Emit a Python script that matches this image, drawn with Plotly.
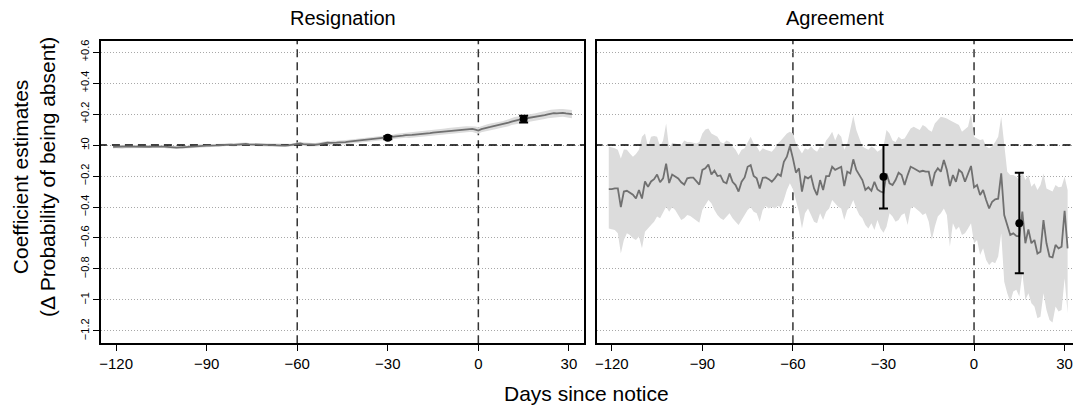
import plotly.graph_objects as go

# ---------------- data ----------------
days = list(range(-121, 32))

resig_est = [
    -0.011, -0.010, -0.011, -0.012, -0.011, -0.010, -0.009, -0.010, -0.011, -0.010,
    -0.009, -0.010, -0.011, -0.010, -0.009, -0.008, -0.009, -0.010, -0.012, -0.014,
    -0.016, -0.017, -0.015, -0.016, -0.013, -0.012, -0.010, -0.008, -0.006, -0.005,
    -0.006, -0.004, -0.003, -0.004, -0.002, -0.001, 0.001, 0.002, 0.004, 0.003,
    0.001, 0.003, 0.005, 0.006, 0.007, 0.005, 0.004, 0.006, 0.004, 0.002,
    0.001, 0.000, 0.001, -0.001, -0.002, -0.001, -0.003, -0.003, -0.002, 0.000,
    0.003, 0.006, 0.010, 0.006, 0.004, 0.003, 0.002, 0.002, 0.005, 0.009,
    0.013, 0.015, 0.014, 0.017, 0.016, 0.018, 0.017, 0.019, 0.022, 0.024,
    0.026, 0.028, 0.030, 0.032, 0.033, 0.036, 0.038, 0.039, 0.041, 0.043,
    0.045, 0.047, 0.050, 0.054, 0.057, 0.059, 0.061, 0.064, 0.063, 0.066,
    0.068, 0.069, 0.071, 0.072, 0.074, 0.077, 0.080, 0.082, 0.085, 0.087,
    0.089, 0.091, 0.093, 0.095, 0.098, 0.099, 0.101, 0.102, 0.103, 0.104,
    0.100, 0.094, 0.103, 0.110, 0.113, 0.117, 0.121, 0.126, 0.130, 0.133,
    0.138, 0.145, 0.152, 0.158, 0.162, 0.166, 0.170, 0.173, 0.175, 0.178,
    0.182, 0.185, 0.189, 0.193, 0.198, 0.202, 0.206, 0.205, 0.207, 0.208,
    0.204, 0.202, 0.200,
]

resig_half = [
    0.011, 0.010, 0.010, 0.011, 0.010, 0.009, 0.010, 0.010, 0.011, 0.010,
    0.010, 0.009, 0.010, 0.010, 0.011, 0.010, 0.010, 0.009, 0.010, 0.010,
    0.011, 0.010, 0.010, 0.010, 0.009, 0.010, 0.010, 0.011, 0.010, 0.010,
    0.010, 0.009, 0.010, 0.010, 0.011, 0.010, 0.010, 0.010, 0.009, 0.010,
    0.010, 0.011, 0.010, 0.010, 0.010, 0.009, 0.010, 0.010, 0.011, 0.010,
    0.010, 0.010, 0.009, 0.010, 0.010, 0.011, 0.010, 0.010, 0.010, 0.009,
    0.010, 0.011, 0.011, 0.012, 0.011, 0.012, 0.012, 0.011, 0.012, 0.012,
    0.013, 0.012, 0.013, 0.013, 0.012, 0.013, 0.013, 0.014, 0.013, 0.013,
    0.014, 0.013, 0.014, 0.014, 0.015, 0.014, 0.014, 0.015, 0.015, 0.014,
    0.015, 0.015, 0.016, 0.015, 0.016, 0.016, 0.015, 0.016, 0.017, 0.016,
    0.017, 0.016, 0.017, 0.017, 0.018, 0.017, 0.018, 0.018, 0.017, 0.018,
    0.018, 0.019, 0.018, 0.019, 0.019, 0.018, 0.019, 0.020, 0.019, 0.020,
    0.020, 0.021, 0.020, 0.021, 0.021, 0.022, 0.021, 0.022, 0.022, 0.021,
    0.022, 0.023, 0.022, 0.023, 0.023, 0.024, 0.023, 0.024, 0.024, 0.023,
    0.024, 0.025, 0.024, 0.025, 0.025, 0.026, 0.025, 0.026, 0.026, 0.025,
    0.026, 0.026, 0.027,
]

agree_est = [
    -0.285, -0.285, -0.280, -0.280, -0.400, -0.300, -0.295, -0.305, -0.320, -0.345,
    -0.290, -0.345, -0.235, -0.270, -0.235, -0.220, -0.190, -0.240, -0.215, -0.120,
    -0.245, -0.190, -0.200, -0.215, -0.240, -0.255, -0.215, -0.210, -0.210, -0.235,
    -0.255, -0.160, -0.150, -0.125, -0.190, -0.165, -0.200, -0.196, -0.237, -0.247,
    -0.183, -0.237, -0.258, -0.300, -0.237, -0.209, -0.140, -0.129, -0.200, -0.215,
    -0.280, -0.211, -0.209, -0.220, -0.237, -0.215, -0.187, -0.200, -0.108, -0.075,
    -0.006, -0.086, -0.178, -0.150, -0.300, -0.204, -0.215, -0.200, -0.280, -0.323,
    -0.226, -0.290, -0.200, -0.200, -0.140, -0.160, -0.150, -0.140, -0.265, -0.172,
    -0.183, -0.092, -0.161, -0.194, -0.226, -0.290, -0.273, -0.295, -0.237, -0.286,
    -0.300, -0.307, -0.183, -0.247, -0.258, -0.226, -0.178, -0.194, -0.258, -0.194,
    -0.140, -0.150, -0.160, -0.172, -0.166, -0.172, -0.172, -0.265, -0.180, -0.150,
    -0.172, -0.097, -0.161, -0.265, -0.194, -0.237, -0.161, -0.178, -0.237, -0.187,
    -0.135, -0.273, -0.258, -0.323, -0.290, -0.355, -0.409, -0.366, -0.350, -0.346,
    -0.183, -0.452, -0.516, -0.580, -0.570, -0.587, -0.590, -0.430, -0.634, -0.544,
    -0.634, -0.613, -0.700, -0.688, -0.484, -0.634, -0.720, -0.725, -0.645, -0.667,
    -0.656, -0.424, -0.667,
]

agree_hi = [
    -0.010, -0.015, -0.020, -0.030, -0.086, -0.028, -0.030, -0.054, -0.075, -0.058,
    -0.030, 0.054, 0.075, -0.010, 0.054, 0.058, 0.054, -0.010, 0.030, 0.140,
    -0.020, 0.015, 0.010, 0.006, 0.000, 0.030, 0.020, 0.020, 0.015, 0.010,
    0.020, 0.075, 0.100, 0.107, 0.075, 0.065, 0.054, 0.020, 0.010, 0.030,
    0.020, -0.010, -0.030, -0.065, -0.030, -0.020, 0.020, 0.054, 0.010, -0.010,
    -0.043, -0.020, -0.030, -0.037, -0.043, -0.020, 0.010, 0.030, 0.054, 0.075,
    0.086, 0.075, 0.010, -0.020, -0.054, -0.020, -0.030, -0.010, -0.030, -0.043,
    -0.010, -0.020, 0.030, 0.054, 0.086, 0.030, 0.075, 0.054, -0.030, 0.010,
    0.097, 0.190, 0.097, 0.043, -0.010, -0.020, -0.030, -0.010, -0.020, -0.043,
    -0.030, -0.010, 0.097, 0.075, 0.030, 0.020, 0.054, 0.037, 0.043, 0.075,
    0.107, 0.118, 0.107, 0.097, 0.130, 0.118, 0.097, 0.086, 0.140, 0.160,
    0.183, 0.178, 0.172, 0.160, 0.150, 0.140, 0.130, 0.086, 0.100, 0.118,
    0.204, 0.054, 0.043, 0.032, 0.037, -0.010, -0.020, -0.010, 0.020, 0.054,
    0.183, -0.010, -0.172, -0.194, -0.194, -0.204, -0.226, -0.172, -0.226, -0.194,
    -0.269, -0.247, -0.290, -0.258, -0.183, -0.280, -0.290, -0.300, -0.258, -0.273,
    -0.269, -0.204, -0.290,
]

agree_lo = [
    -0.538, -0.544, -0.548, -0.570, -0.700, -0.613, -0.570, -0.580, -0.602, -0.613,
    -0.591, -0.667, -0.559, -0.538, -0.516, -0.495, -0.462, -0.473, -0.441, -0.398,
    -0.430, -0.402, -0.419, -0.452, -0.484, -0.473, -0.452, -0.458, -0.473, -0.488,
    -0.501, -0.419, -0.387, -0.355, -0.376, -0.419, -0.452, -0.473, -0.484, -0.462,
    -0.441, -0.473, -0.495, -0.516, -0.484, -0.452, -0.419, -0.402, -0.430, -0.441,
    -0.495, -0.419, -0.394, -0.409, -0.398, -0.409, -0.394, -0.402, -0.355, -0.290,
    -0.247, -0.286, -0.355, -0.430, -0.538, -0.441, -0.409, -0.452, -0.495, -0.505,
    -0.441, -0.484, -0.430, -0.409, -0.355, -0.376, -0.398, -0.409, -0.484, -0.419,
    -0.398, -0.355, -0.409, -0.452, -0.473, -0.516, -0.538, -0.505, -0.548, -0.484,
    -0.538, -0.566, -0.527, -0.441, -0.462, -0.495, -0.484, -0.452, -0.441, -0.516,
    -0.409, -0.398, -0.415, -0.430, -0.452, -0.441, -0.495, -0.613, -0.527, -0.462,
    -0.441, -0.409, -0.452, -0.656, -0.505, -0.548, -0.527, -0.580, -0.570, -0.538,
    -0.505, -0.634, -0.613, -0.710, -0.667, -0.742, -0.774, -0.753, -0.763, -0.720,
    -0.570, -0.882, -0.957, -1.011, -0.946, -0.935, -0.978, -0.828, -1.000, -0.957,
    -1.022, -1.043, -1.118, -1.108, -0.957, -1.065, -1.129, -1.146, -1.043, -1.075,
    -1.065, -0.860, -1.086,
]

point_days = [-30, 15]
resig_pt_est = [0.047, 0.168]
resig_pt_lo = [0.037, 0.145]
resig_pt_hi = [0.057, 0.190]
agree_pt_est = [-0.204, -0.505]
agree_pt_lo = [-0.409, -0.828]
agree_pt_hi = [0.000, -0.178]

panel_titles = ["Resignation", "Agreement"]
xtick_vals = [-120, -90, -60, -30, 0, 30]
ytick_vals = [0.6, 0.4, 0.2, 0.0, -0.2, -0.4, -0.6, -0.8, -1.0, -1.2]
ytick_text = ["+0.6", "+0.4", "+0.2", "\u00b10", "\u22120.2", "\u22120.4",
              "\u22120.6", "\u22120.8", "\u22121", "\u22121.2"]
ref_days = [-60, 0]

# ---------------- figure ----------------
FONT = "Liberation Sans, Arial, Helvetica, sans-serif"
W, H = 1073, 409
BAND = "#dcdcdc"
LINE = "#707070"

fig = go.Figure()

resig_lo = [e - h for e, h in zip(resig_est, resig_half)]
resig_hi = [e + h for e, h in zip(resig_est, resig_half)]

panels = [
    (resig_est, resig_lo, resig_hi, resig_pt_est, resig_pt_lo, resig_pt_hi, "x", "y"),
    (agree_est, agree_lo, agree_hi, agree_pt_est, agree_pt_lo, agree_pt_hi, "x2", "y2"),
]

for est, lo, hi, pe, plo, phi, xa, ya in panels:
    # confidence band
    fig.add_trace(go.Scatter(
        x=days + days[::-1], y=hi + lo[::-1], fill="toself", fillcolor=BAND,
        line=dict(width=0), mode="lines", hoverinfo="skip", showlegend=False,
        xaxis=xa, yaxis=ya))
    # zero reference line (drawn above band)
    fig.add_trace(go.Scatter(
        x=[-130, 40], y=[0, 0], mode="lines",
        line=dict(color="black", width=1.5, dash="8px,5px"),
        hoverinfo="skip", showlegend=False, xaxis=xa, yaxis=ya))
    # estimate line
    fig.add_trace(go.Scatter(
        x=days, y=est, mode="lines", line=dict(color=LINE, width=1.8),
        showlegend=False, xaxis=xa, yaxis=ya))
    # point estimates with error bars
    fig.add_trace(go.Scatter(
        x=point_days, y=pe, mode="markers",
        marker=dict(color="black", size=8),
        error_y=dict(type="data", symmetric=False,
                     array=[h - e for h, e in zip(phi, pe)],
                     arrayminus=[e - l for e, l in zip(pe, plo)],
                     color="black", thickness=2, width=4.5),
        showlegend=False, xaxis=xa, yaxis=ya))

# vertical dashed reference lines (below band)
for xa in ["x", "x2"]:
    for d in ref_days:
        fig.add_shape(type="line", xref=xa, yref=("y domain" if xa == "x" else "y2 domain"),
                      x0=d, x1=d, y0=0, y1=1, layer="below",
                      line=dict(color="#333333", width=1.5, dash="8px,5px"))

xl = [101 / W, 584 / W]
xr = [596.7 / W, 1.0]
yd = [(H - 343.3) / H, (H - 41) / H]
x2max = -125 + (1073 - 596.7) / ((584 - 101) / 160.0)

common_x = dict(showgrid=False, zeroline=False, showline=True, linecolor="black",
                linewidth=1.5, mirror=True, ticks="outside", ticklen=6, tickwidth=1.3,
                tickcolor="black", tickvals=xtick_vals,
                tickfont=dict(family=FONT, size=15, color="black"))
common_y = dict(range=[-1.28, 0.672], showgrid=True, gridcolor="#a8a8a8", gridwidth=1,
                griddash="1px,2px", zeroline=False, showline=True, linecolor="black",
                linewidth=1.5, tickvals=ytick_vals, ticktext=ytick_text,
                domain=yd)

fig.update_layout(
    width=W, height=H,
    margin=dict(l=0, r=0, t=0, b=0, autoexpand=False),
    paper_bgcolor="white", plot_bgcolor="white",
    font=dict(family=FONT, color="black"),
    hovermode=False,
    xaxis=dict(domain=xl, range=[-125, 35], anchor="y", **common_x),
    xaxis2=dict(domain=xr, range=[-125, x2max], anchor="y2", **common_x),
    yaxis=dict(anchor="x", mirror=True, ticks="outside", ticklen=6, tickwidth=1.3,
               tickcolor="black", tickangle=-90,
               tickfont=dict(family=FONT, size=11, color="black"), **common_y),
    yaxis2=dict(anchor="x2", mirror=False, ticks="", showticklabels=False, **common_y),
    annotations=[
        dict(text=panel_titles[0], x=342.5 / W, y=(H - 18) / H, xref="paper", yref="paper",
             showarrow=False, font=dict(family=FONT, size=20), xanchor="center", yanchor="middle"),
        dict(text=panel_titles[1], x=835 / W, y=(H - 18) / H, xref="paper", yref="paper",
             showarrow=False, font=dict(family=FONT, size=20), xanchor="center", yanchor="middle"),
        dict(text="Days since notice", x=586 / W, y=(H - 393) / H, xref="paper", yref="paper",
             showarrow=False, font=dict(family=FONT, size=21), xanchor="center", yanchor="middle"),
        dict(text="Coefficient estimates<br>(\u0394 Probability of being absent)",
             x=34 / W, y=(H - 177) / H, xref="paper", yref="paper", textangle=-90,
             showarrow=False, font=dict(family=FONT, size=21), xanchor="center", yanchor="middle"),
    ],
)

fig.write_html("out.html", config={"displayModeBar": False},
               post_script="document.body.style.margin='0px';document.body.style.overflow='hidden';")
